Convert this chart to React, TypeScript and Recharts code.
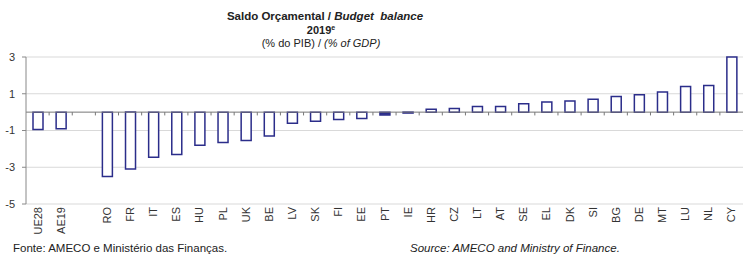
import { Bar, BarChart, CartesianGrid, Cell, ReferenceLine, XAxis, YAxis } from "recharts";

const categories = [
    "UE28", "AE19", "", "RO", "FR", "IT", "ES", "HU", "PL", "UK", "BE", "LV", "SK", "FI", "EE", "PT",
    "IE", "HR", "CZ", "LT", "AT", "SE", "EL", "DK", "SI", "BG", "DE", "MT", "LU", "NL", "CY",
];

const balance = [
    -0.95, -0.9, null, -3.5, -3.1, -2.45, -2.3, -1.8, -1.65, -1.55, -1.3, -0.6, -0.5, -0.4, -0.35, -0.15,
    -0.05, 0.15, 0.2, 0.3, 0.3, 0.45, 0.55, 0.6, 0.7, 0.85, 0.95, 1.1, 1.4, 1.45, 3.0,
];

const yTicks = [3, 1, -1, -3, -5];

const highlighted = "PT";

const data = categories.map((name, i) => ({ idx: i, name, value: balance[i] }));
const xTicks = categories.map((_, i) => i);
const boundaries = categories.slice(1).map((_, i) => i + 0.5);

const navy = "#2b2d8a";
const font = "'Liberation Sans', Arial, sans-serif";

function CountryTick(props: any) {
    const { x, y, payload } = props;
    return (
        <g transform={`translate(${x},${y})`}>
            <text
                x={-3}
                y={0}
                dy={4}
                transform="rotate(-90)"
                textAnchor="end"
                fontSize={11}
                fontFamily={font}
                fill="#333"
            >
                {categories[payload.value]}
            </text>
        </g>
    );
}

export default function App() {
    return (
        <div style={{ position: "absolute", left: 0, top: 0, width: 743, height: 256, background: "#fff", fontFamily: font, color: "#222", overflow: "hidden" }}>
            <div style={{ position: "absolute", left: 0, width: 650, top: 9, textAlign: "center", fontSize: 11.5, fontWeight: "bold", lineHeight: "14px" }}>
                Saldo Orçamental / <i>Budget&nbsp; balance</i>
            </div>
            <div style={{ position: "absolute", left: 0, width: 642, top: 23, textAlign: "center", fontSize: 11, fontWeight: "bold", lineHeight: "14px" }}>
                2019<sup style={{ fontSize: 7, verticalAlign: "top", lineHeight: "10px" }}>e</sup>
            </div>
            <div style={{ position: "absolute", left: 0, width: 642, top: 36, textAlign: "center", fontSize: 11, lineHeight: "14px" }}>
                (% do PIB) / <i>(% of GDP)</i>
            </div>

            <BarChart
                width={743}
                height={256}
                data={data}
                margin={{ top: 57, right: 0, left: 0, bottom: 0 }}
                barSize={10}
            >
                <CartesianGrid horizontal vertical={false} stroke="#d9d9d9" />
                <XAxis
                    type="number"
                    dataKey="idx"
                    domain={[-0.5, categories.length - 0.5]}
                    ticks={xTicks}
                    interval={0}
                    axisLine={false}
                    tickLine={false}
                    tickSize={0}
                    tickMargin={0}
                    tick={<CountryTick />}
                    height={52}
                />
                <YAxis
                    domain={[-5, 3]}
                    ticks={yTicks}
                    interval={0}
                    width={26}
                    tickSize={4}
                    tickMargin={7}
                    axisLine={{ stroke: "#888" }}
                    tickLine={{ stroke: "#888" }}
                    tick={{ fontSize: 11, fontFamily: font, fill: "#333" }}
                />
                <Bar dataKey="value" stroke={navy} strokeWidth={1.5} fill="#fff" isAnimationActive={false}>
                    {data.map((d) => (
                        <Cell key={d.idx} fill={d.name === highlighted ? navy : "#fff"} />
                    ))}
                </Bar>
                <ReferenceLine y={0} stroke="#777" strokeWidth={1} />
                {boundaries.map((b) => (
                    <ReferenceLine
                        key={b}
                        segment={[{ x: b, y: 0 }, { x: b, y: -0.18 }]}
                        stroke="#777"
                    />
                ))}
            </BarChart>

            <div style={{ position: "absolute", left: 13, top: 242, fontSize: 11.5, lineHeight: "13px", whiteSpace: "nowrap" }}>
                Fonte: AMECO e Ministério das Finanças.
            </div>
            <div style={{ position: "absolute", left: 410, top: 242, fontSize: 11.5, lineHeight: "13px", fontStyle: "italic", whiteSpace: "nowrap" }}>
                Source: AMECO and Ministry of Finance.
            </div>
        </div>
    );
}
